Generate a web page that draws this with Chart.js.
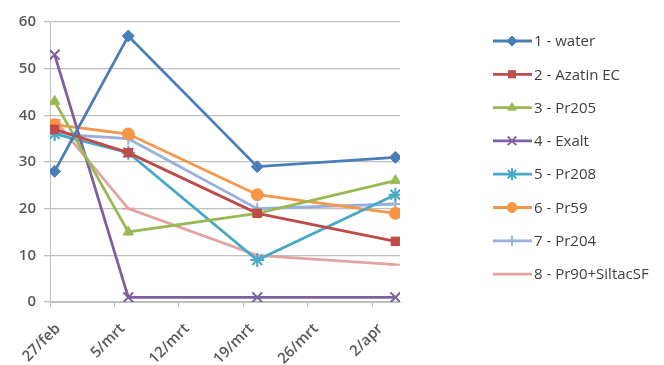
<!DOCTYPE html>
<html><head><meta charset="utf-8">
<script src="https://cdn.jsdelivr.net/npm/chart.js@4"></script>
<style>html,body{margin:0;padding:0;background:#fff;}canvas{display:block;}</style>
</head><body>
<canvas id="c" width="664" height="365"></canvas>
<script>
const axisStart = '2012-02-27';
const axisEnd = '2012-04-05';
const sampleDates = ['2012-02-27', '2012-03-06', '2012-03-20', '2012-04-04'];
const tickLabels = ['27/feb', '5/mrt', '12/mrt', '19/mrt', '26/mrt', '2/apr'];
const seriesNames = ['1 - water', '2 - Azatin EC', '3 - Pr205', '4 - Exalt', '5 - Pr208', '6 - Pr59', '7 - Pr204', '8 - Pr90+SiltacSF'];
const water = [28, 57, 29, 31];
const azatin = [37, 32, 19, 13];
const pr205 = [43, 15, 19, 26];
const exalt = [53, 1, 1, 1];
const pr208 = [36, 32, 9, 23];
const pr59 = [38, 36, 23, 19];
const pr204 = [36, 35, 20, 21];
const pr90 = [39, 20, 10, 8];

const seriesValues = [water, azatin, pr205, exalt, pr208, pr59, pr204, pr90];
const colors = ['#4A7EBB', '#BE4B48', '#98B954', '#7D60A0', '#46AAC5', '#F79646', '#9AB0DC', '#E3A3A2'];
const markers = ['rectRot', 'rect', 'triangle', 'crossRot', 'star', 'circle', 'cross', 'line'];
const radii = [6, 6, 6, 7, 7, 6, 6, 6];

const dayMs = 86400000;
const dayOf = s => (Date.parse(s + 'T00:00:00Z') - Date.parse(axisStart + 'T00:00:00Z')) / dayMs;
const xs = sampleDates.map(d => dayOf(d) + 0.5);
const tickDays = tickLabels.map((_, i) => i * 7);

const datasets = seriesNames.map((name, i) => ({
  label: name,
  data: seriesValues[i].map((v, j) => ({x: xs[j], y: v})),
  borderColor: colors[i],
  backgroundColor: colors[i],
  pointBorderColor: colors[i],
  pointBackgroundColor: colors[i],
  pointStyle: markers[i],
  pointRadius: radii[i],
  pointBorderWidth: (markers[i] === 'crossRot' || markers[i] === 'star' || markers[i] === 'cross' || markers[i] === 'line') ? 2 : 1,
  borderWidth: 2.8,
  tension: 0,
  fill: false
}));

const legendPlugin = {
  id: 'sideLegend',
  afterDraw(chart) {
    const ctx = chart.ctx;
    ctx.save();
    chart.data.datasets.forEach((ds, i) => {
      const y = 41 + i * 33.3;
      ctx.strokeStyle = ds.borderColor;
      ctx.lineWidth = 2.8;
      ctx.beginPath();
      ctx.moveTo(493, y);
      ctx.lineTo(532, y);
      ctx.stroke();
      ctx.fillStyle = ds.backgroundColor;
      ctx.lineWidth = ds.pointBorderWidth;
      Chart.helpers.drawPoint(ctx, {pointStyle: ds.pointStyle, radius: ds.pointRadius - 1, rotation: 0, borderWidth: ds.pointBorderWidth}, 512, y);
      ctx.fillStyle = '#404040';
      ctx.font = '15px "Open Sans"';
      ctx.textBaseline = 'middle';
      ctx.textAlign = 'left';
      ctx.fillText(ds.label, 534, y + 1);
    });
    ctx.restore();
  }
};

new Chart(document.getElementById('c'), {
  type: 'line',
  data: {datasets},
  options: {
    responsive: false,
    animation: false,
    events: [],
    layout: {padding: {left: 0, top: 22, right: 264, bottom: 0}},
    plugins: {legend: {display: false}, tooltip: {enabled: false}},
    scales: {
      x: {
        type: 'linear',
        min: 0,
        max: dayOf(axisEnd),
        afterBuildTicks: axis => { axis.ticks = tickDays.map(v => ({value: v})); },
        afterFit: scale => { scale.height = 63; },
        ticks: {
          callback: v => tickLabels[tickDays.indexOf(v)],
          maxRotation: 45, minRotation: 45,
          color: '#595959',
          font: {family: 'Open Sans', size: 15, weight: '600'},
          padding: 13,
          labelOffset: 8,
          autoSkip: false
        },
        grid: {drawOnChartArea: false, drawTicks: true, tickLength: 5, color: '#BFBFBF'},
        border: {color: '#BFBFBF', width: 1}
      },
      y: {
        min: 0, max: 60,
        afterFit: scale => { scale.width = 50; },
        ticks: {stepSize: 10, color: '#595959', font: {family: 'Open Sans', size: 15, weight: '600'}, padding: 8},
        grid: {color: '#BFBFBF', tickLength: 6, lineWidth: 1.3},
        border: {color: '#BFBFBF', width: 1}
      }
    }
  },
  plugins: [legendPlugin]
});
</script>
</body></html>
